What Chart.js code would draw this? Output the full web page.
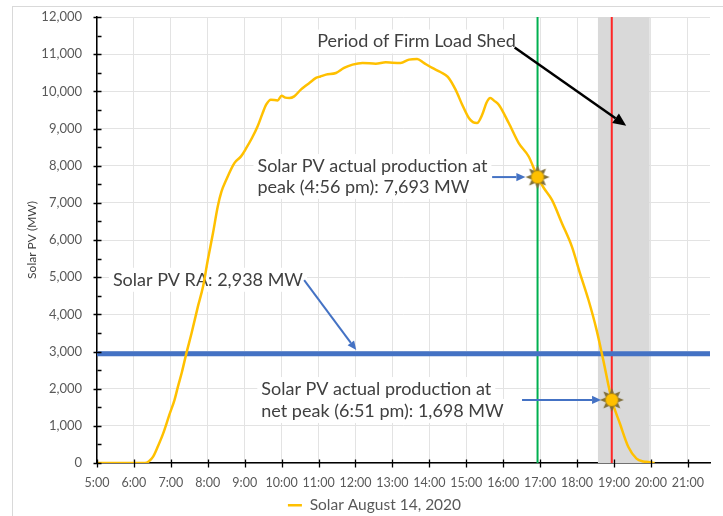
<!DOCTYPE html>
<html>
<head>
<meta charset="utf-8">
<script src="https://cdn.jsdelivr.net/npm/chart.js@4.4.0/dist/chart.umd.min.js"></script>
<style>
  html, body { margin: 0; padding: 0; background: #fff; }
  #wrap { width: 723px; height: 516px; position: relative; }
</style>
</head>
<body>
<div id="wrap"><canvas id="solar-chart"></canvas></div>
<script>
  // time of day in decimal hours, solar PV output in MW
  const hours = [5.0, 6.0, 6.3, 6.4, 6.52, 6.65, 6.79, 6.97, 7.1, 7.19, 7.3, 7.42, 7.56, 7.73, 7.87,
    8.0, 8.14, 8.27, 8.37, 8.5, 8.72, 8.9, 9.04, 9.2, 9.35, 9.48, 9.58, 9.71, 9.89, 10.0,
    10.1, 10.21, 10.34, 10.52, 10.65, 10.75, 10.93, 11.05, 11.2, 11.47, 11.69, 11.92, 12.19, 12.55,
    12.82, 13.0, 13.22, 13.45, 13.67, 13.85, 14.08, 14.3, 14.5, 14.71, 14.89, 15.07, 15.18, 15.29,
    15.43, 15.55, 15.65, 15.75, 15.88, 16.15, 16.42, 16.69, 16.93, 17.1, 17.32, 17.59, 17.86, 18.08,
    18.31, 18.53, 18.71, 18.94, 19.16, 19.39, 19.61, 19.8, 19.93, 20.1];
  const solarMW = [0, 0, 0, 40, 170, 450, 790, 1330, 1700, 2050, 2450, 2950, 3490, 4200, 4740,
    5460, 6180, 6900, 7300, 7620, 8070, 8250, 8470, 8750, 9060, 9400, 9640, 9775, 9756, 9880,
    9830, 9820, 9864, 10045, 10150, 10225, 10360, 10400, 10449, 10494, 10629, 10718, 10764, 10745,
    10780, 10770, 10764, 10853, 10871, 10764, 10629, 10520, 10390, 10045, 9640, 9281, 9170, 9147,
    9370, 9700, 9820, 9750, 9640, 9147, 8608, 8247, 7693, 7400, 7080, 6452, 5821, 5104,
    4385, 3576, 2768, 1698, 1062, 431, 119, 40, 27, 0];

  const raMW = 2938;
  const peakHour = 16.93, peakMW = 7693;
  const netPeakHour = 18.94, netPeakMW = 1698;
  const shedStart = 18.56, shedEnd = 19.97;

  const xMin = 5, xMax = 21.6;
  const yMin = 0, yMax = 12000;

  const legendLabel = 'Solar August 14, 2020';
  const yTitle = 'Solar PV (MW)';

  // text boxes: [text, hour, MW]
  const notes = [
    ['Period of Firm Load Shed', 10.965, 11340],
    ['Solar PV actual production at', 9.345, 7990],
    ['peak (4:56 pm): 7,693 MW', 9.345, 7430],
    ['Solar PV RA: 2,938 MW', 5.43, 4930],
    ['Solar PV actual production at', 9.45, 1990],
    ['net peak (6:51 pm): 1,698 MW', 9.45, 1400]
  ];

  // arrows: [fromHour, fromMW, toHour, toMW, colour, width, head]
  const arrows = [
    [16.31, 11180, 19.33, 9075, '#000000', 2.5, 13],
    [15.7, 7693, 16.6, 7693, '#4472C4', 2, 9],
    [16.51, 1698, 18.65, 1698, '#4472C4', 2, 9],
    [10.61, 4920, 12.02, 3040, '#4472C4', 2, 9]
  ];

  function sunIcon() {
    const c = document.createElement('canvas');
    c.width = 26; c.height = 26;
    const g = c.getContext('2d');
    g.translate(13, 13);
    g.fillStyle = '#7f6f3a';
    for (let i = 0; i < 8; i++) {
      g.save();
      g.rotate(i * Math.PI / 4);
      g.beginPath();
      g.moveTo(-2.2, -6.5);
      g.lineTo(0, -12);
      g.lineTo(2.2, -6.5);
      g.closePath();
      g.fill();
      g.restore();
    }
    g.beginPath();
    g.arc(0, 0, 6.5, 0, Math.PI * 2);
    g.fillStyle = '#FFC000';
    g.fill();
    g.lineWidth = 1;
    g.strokeStyle = '#a07c10';
    g.stroke();
    return c;
  }

  function drawArrow(ctx, x1, y1, x2, y2, color, width, head) {
    const ang = Math.atan2(y2 - y1, x2 - x1);
    const bx = x2 - Math.cos(ang) * head, by = y2 - Math.sin(ang) * head;
    ctx.strokeStyle = color;
    ctx.fillStyle = color;
    ctx.lineWidth = width;
    ctx.beginPath();
    ctx.moveTo(x1, y1);
    ctx.lineTo(bx, by);
    ctx.stroke();
    const w = head * 0.45;
    ctx.beginPath();
    ctx.moveTo(x2, y2);
    ctx.lineTo(bx + Math.sin(ang) * w, by - Math.cos(ang) * w);
    ctx.lineTo(bx - Math.sin(ang) * w, by + Math.cos(ang) * w);
    ctx.closePath();
    ctx.fill();
  }

  const framePlugin = {
    id: 'frame',
    beforeDraw(chart) {
      const ctx = chart.ctx;
      ctx.save();
      ctx.fillStyle = '#fff';
      ctx.fillRect(0, 0, chart.width, chart.height);
      ctx.strokeStyle = '#d9d9d9';
      ctx.lineWidth = 1;
      ctx.strokeRect(12.5, 6.5, chart.width, chart.height);
      ctx.restore();
    }
  };

  const notesPlugin = {
    id: 'notes',
    beforeDatasetsDraw(chart) {
      const { ctx, scales: { x, y } } = chart;
      ctx.save();
      ctx.font = '18px Lato';
      ctx.textBaseline = 'middle';
      notes.forEach(n => {
        const px = x.getPixelForValue(n[1]), py = y.getPixelForValue(n[2]);
        const w = ctx.measureText(n[0]).width;
        ctx.fillStyle = '#fff';
        ctx.fillRect(px - 4, py - 12, w + 8, 24);
      });
      ctx.fillStyle = '#404040';
      notes.forEach(n => ctx.fillText(n[0], x.getPixelForValue(n[1]), y.getPixelForValue(n[2])));
      ctx.restore();
    },
    afterDatasetsDraw(chart) {
      const { ctx, scales: { x, y } } = chart;
      ctx.save();
      arrows.forEach(a => drawArrow(ctx, x.getPixelForValue(a[0]), y.getPixelForValue(a[1]),
        x.getPixelForValue(a[2]), y.getPixelForValue(a[3]), a[4], a[5], a[6]));
      ctx.restore();
    },
    afterDraw(chart) {
      // tick marks crossing the axes
      const { ctx, scales: { x, y } } = chart;
      const x0 = Math.round(x.getPixelForValue(xMin)) + 0.5;
      const y0 = Math.round(y.getPixelForValue(0)) + 0.5;
      ctx.save();
      ctx.strokeStyle = '#000';
      ctx.lineWidth = 1.3;
      ctx.beginPath();
      for (let v = yMin; v <= yMax; v += 500) {
        const py = Math.round(y.getPixelForValue(v)) + 0.5;
        ctx.moveTo(v % 1000 === 0 ? x0 - 4 : x0, py);
        ctx.lineTo(x0 + 4, py);
      }
      for (let h = 5; h <= 21; h++) {
        const px = Math.round(x.getPixelForValue(h)) + 0.5;
        ctx.moveTo(px, y0 - 4);
        ctx.lineTo(px, y0 + 4);
      }
      ctx.stroke();
      ctx.restore();
    }
  };

  const solarPoints = hours.map((h, i) => ({ x: h, y: solarMW[i] }));

  Chart.defaults.font.family = 'Lato';
  Chart.defaults.color = '#595959';

  new Chart(document.getElementById('solar-chart').getContext('2d'), {
    type: 'line',
    data: {
      datasets: [
        {
          label: legendLabel,
          data: solarPoints,
          borderColor: '#FFC000',
          backgroundColor: '#FFC000',
          borderWidth: 2.5,
          pointRadius: 0,
          cubicInterpolationMode: 'monotone',
          order: 2
        },
        {
          label: 'markers',
          data: [{ x: peakHour, y: peakMW }, { x: netPeakHour, y: netPeakMW }],
          showLine: false,
          pointStyle: sunIcon(),
          pointRadius: 12,
          order: 1
        },
        {
          label: 'RA',
          data: [{ x: xMin, y: raMW }, { x: xMax, y: raMW }],
          borderColor: '#4472C4',
          borderWidth: 5,
          pointRadius: 0,
          order: 3
        },
        {
          label: 'peak',
          data: [{ x: peakHour, y: yMin }, { x: peakHour, y: yMax }],
          borderColor: '#00B050',
          borderWidth: 2,
          pointRadius: 0,
          order: 4
        },
        {
          label: 'net peak',
          data: [{ x: netPeakHour, y: yMin }, { x: netPeakHour, y: yMax }],
          borderColor: '#FF2626',
          borderWidth: 2,
          pointRadius: 0,
          order: 5
        },
        {
          label: 'shed',
          data: [{ x: shedStart, y: yMax }, { x: shedEnd, y: yMax }],
          borderWidth: 0,
          pointRadius: 0,
          fill: 'origin',
          backgroundColor: '#D9D9D9',
          order: 9
        }
      ]
    },
    options: {
      responsive: true,
      maintainAspectRatio: false,
      animation: false,
      layout: { padding: { top: 17, right: 10, left: 36, bottom: -7 } },
      plugins: {
        tooltip: { enabled: false },
        legend: {
          position: 'bottom',
          labels: {
            filter: item => item.datasetIndex === 0,
            usePointStyle: true,
            pointStyle: 'line',
            pointStyleWidth: 14,
            font: { size: 15.5 },
            color: '#595959',
            padding: 0
          }
        }
      },
      scales: {
        x: {
          type: 'linear',
          min: xMin,
          max: xMax,
          afterFit: s => { s.height = 34.5; },
          ticks: {
            stepSize: 1,
            includeBounds: false,
            autoSkip: false,
            maxRotation: 0,
            padding: 12,
            font: { size: 12.5 },
            callback: v => v + ':00'
          },
          grid: { color: '#e3e3e3', drawTicks: false },
          border: { color: '#000', width: 1.5 }
        },
        y: {
          min: yMin,
          max: yMax,
          afterFit: s => { s.width = 61; s.paddingTop = 0; s.paddingBottom = 0; },
          ticks: {
            stepSize: 1000,
            padding: 15,
            font: { size: 13 },
            callback: v => v.toLocaleString('en-US')
          },
          grid: { color: '#e3e3e3', drawTicks: false },
          border: { color: '#000', width: 1.5 },
          title: {
            display: true,
            text: yTitle,
            color: '#404040',
            font: { size: 12 },
            padding: { top: -11.5, bottom: 0 }
          }
        }
      }
    },
    plugins: [framePlugin, notesPlugin]
  });
</script>
</body>
</html>
